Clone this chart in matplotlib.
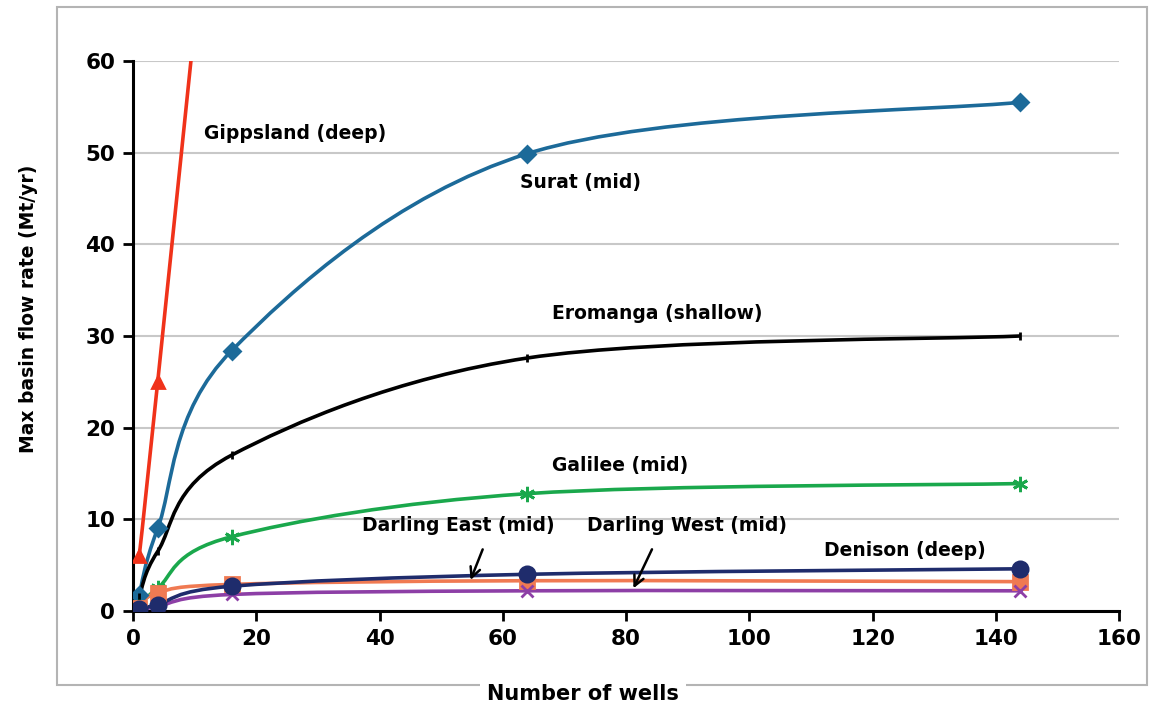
import numpy as np
import matplotlib.pyplot as plt
from matplotlib.path import Path
from matplotlib.patches import PathPatch, Rectangle

plt.rcParams['font.family'] = ['DejaVu Sans']
plt.rcParams['font.weight'] = 'bold'

# number of wells per basin scenario
wells = [1, 4, 16, 64, 144]

gippsland = [6.0, 25.0, 103.0]
surat = [1.7, 9.0, 28.4, 49.9, 55.5]
eromanga = [1.5, 6.5, 17.0, 27.6, 30.0]
galilee = [0.4, 2.5, 8.1, 12.8, 13.9]
denison = [0.2, 0.7, 2.7, 4.0, 4.6]
darling_east = [0.3, 2.0, 2.9, 3.3, 3.2]
darling_west = [0.1, 0.5, 1.8, 2.2, 2.2]


def smooth_path(xs, ys):
    # excel-style smoothed line: cubic bezier through every point
    pts = np.column_stack([xs, ys]).astype(float)
    n = len(pts)
    verts = [pts[0]]
    codes = [Path.MOVETO]
    for i in range(n - 1):
        p0 = pts[i - 1] if i > 0 else pts[i]
        p1 = pts[i]
        p2 = pts[i + 1]
        p3 = pts[i + 2] if i + 2 < n else pts[i + 1]
        c1 = p1 + (p2 - p0) / 6.0
        c2 = p2 - (p3 - p1) / 6.0
        verts += [c1, c2, p2]
        codes += [Path.CURVE4] * 3
    return Path(verts, codes)


fig = plt.figure(figsize=(11.52, 7.06), dpi=100)
ax = fig.add_axes([0.1155, 0.1346, 0.8559, 0.779])

series = [
    (gippsland, '#f0321a', '^', 9),
    (surat, '#1c6a99', 'D', 8),
    (eromanga, '#000000', '|', 6),
    (galilee, '#1aa84c', (6, 2, 0), 11),
    (darling_east, '#f07a52', 's', 10),
    (darling_west, '#8d3fa6', 'x', 9),
    (denison, '#1f2c6c', 'o', 11),
]

for ys, color, marker, ms in series:
    xs = wells[:len(ys)]
    patch = PathPatch(smooth_path(xs, ys), facecolor='none', edgecolor=color,
                      lw=2.6, zorder=3)
    ax.add_patch(patch)
    ax.plot(xs, ys, linestyle='none', marker=marker, ms=ms, color=color,
            mec=color, mew=2, zorder=4)

ax.set_xlim(0, 160)
ax.set_ylim(0, 60)
ax.set_xticks(range(0, 161, 20))
ax.set_yticks(range(0, 61, 10))
ax.yaxis.grid(True, color='#c8c8c8', lw=1.5)
ax.set_axisbelow(True)
for side in ['top', 'right']:
    ax.spines[side].set_visible(False)
for side in ['left', 'bottom']:
    ax.spines[side].set_linewidth(2.2)
ax.tick_params(axis='both', direction='out', length=7, width=2, labelsize=15.5, pad=6)

ax.set_ylabel('Max basin flow rate (Mt/yr)', fontsize=13.5, fontweight='bold')
ax.yaxis.set_label_coords(-0.096, 0.55)

# series labels
labels = [
    ('Gippsland (deep)', 26.3, 52.1),
    ('Surat (mid)', 72.6, 46.7),
    ('Eromanga (shallow)', 85.1, 32.5),
    ('Galilee (mid)', 79.1, 15.9),
    ('Darling East (mid)', 52.8, 9.3),
    ('Darling West (mid)', 89.9, 9.3),
    ('Denison (deep)', 125.3, 6.6),
]
for txt, x, y in labels:
    ax.text(x, y, txt, fontsize=13.5, ha='center', va='center', zorder=5)

ax.annotate('', xy=(54.6, 3.1), xytext=(56.9, 7.0),
            arrowprops=dict(arrowstyle='->', color='black', lw=1.8,
                            mutation_scale=18), zorder=5)
ax.annotate('', xy=(81.0, 2.2), xytext=(84.4, 7.0),
            arrowprops=dict(arrowstyle='->', color='black', lw=1.8,
                            mutation_scale=18), zorder=5)

# grey frame round the whole chart
fig.patches.append(Rectangle((0.0495, 0.0297), 0.9462, 0.9604,
                             transform=fig.transFigure, fill=False,
                             edgecolor='#b4b4b4', lw=1.5, zorder=0))
fig.text(0.506, 0.017, 'Number of wells', fontsize=15, ha='center', va='center',
         bbox=dict(facecolor='white', edgecolor='none', pad=5))

fig.savefig('out.png', dpi=100)
